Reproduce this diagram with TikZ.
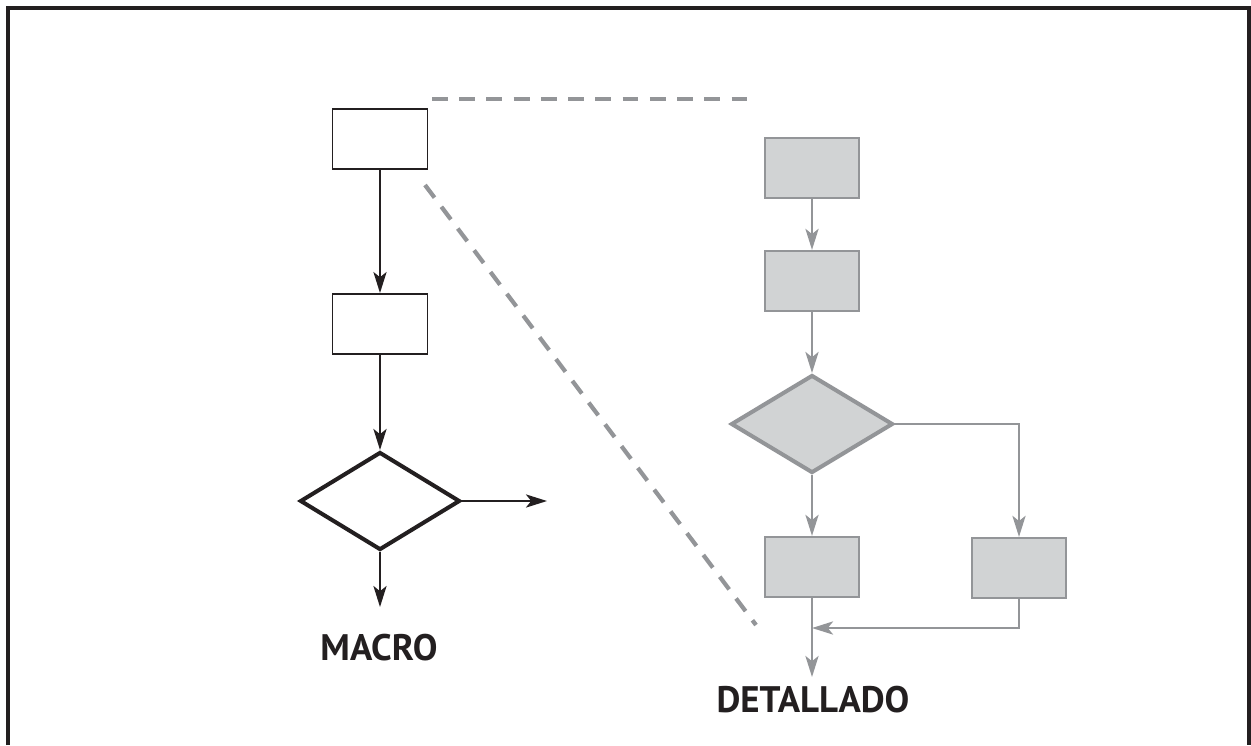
\documentclass[tikz,border=0pt]{standalone}
\usepackage{fontspec}
\setmainfont{PT Sans}
\usetikzlibrary{shapes.geometric,arrows.meta,positioning,calc}
\definecolor{inkblack}{HTML}{231F20}
\definecolor{midgray}{HTML}{939598}
\definecolor{lightgray}{HTML}{D1D3D4}

\begin{document}
\begin{tikzpicture}[x=0.02cm,y=-0.02cm,
  macrobox/.style={draw=inkblack,rectangle,line width=1.1pt,fill=white,
                   minimum width=1.9cm,minimum height=1.2cm,inner sep=0pt},
  macrodec/.style={draw=inkblack,diamond,line width=2.3pt,fill=white,
                   minimum width=3.2cm,minimum height=1.96cm,inner sep=0pt},
  detbox/.style={draw=midgray,fill=lightgray,rectangle,line width=1.3pt,
                 minimum width=1.88cm,minimum height=1.2cm,inner sep=0pt},
  detdec/.style={draw=midgray,fill=lightgray,diamond,line width=2.3pt,
                 minimum width=3.24cm,minimum height=1.96cm,inner sep=0pt},
  arr/.style={-{Stealth[length=12pt,width=7.5pt,inset=3pt]},draw=inkblack,line width=1.1pt},
  garr/.style={-{Stealth[length=12pt,width=7.5pt,inset=3pt]},draw=midgray,line width=1.3pt},
  zoomline/.style={draw=midgray,line width=2.4pt,dash pattern=on 9pt off 6.5pt},
  lbl/.style={font=\fontsize{21}{24}\selectfont\bfseries,text=inkblack,inner sep=0pt}
]
  \useasboundingbox (0,0) rectangle (1251,745);
  % Frame (open at the bottom)
  \draw[inkblack,line width=2.3pt] (8,745) -- (8,8) -- (1249,8) -- (1249,745);

  % Macro flow
  \node[macrobox] (macroA)   at (380,139) {};
  \node[macrobox] (macroB)   at (380,324) {};
  \node[macrodec] (macroDec) at (380,501) {};
  \coordinate (macroOut) at (547,501);
  \coordinate (macroEnd) at (380,607);
  \node[lbl] (macroLbl) at (379,648) {MACRO};

  \draw[arr] (macroA) -- (macroB);
  \draw[arr] (macroB) -- (macroDec);
  \draw[arr] (macroDec.east) -- (macroOut);
  \draw[arr] (macroDec.south) -- (macroEnd);

  % Zoom lines
  \coordinate (zoomTopA) at (432,99);
  \coordinate (zoomTopB) at (752,99);
  \coordinate (zoomLowA) at (425,185);
  \coordinate (zoomLowB) at (756,625);
  \draw[zoomline] (zoomTopA) -- (zoomTopB);
  \draw[zoomline] (zoomLowA) -- (zoomLowB);

  % Detailed flow
  \node[detbox] (detA)   at (812,168) {};
  \node[detbox] (detB)   at (812,281) {};
  \node[detdec] (detDec) at (812,424) {};
  \node[detbox] (detC)   at (812,567) {};
  \node[detbox] (detD)   at (1019,568) {};
  \coordinate (detJoin) at (812,628);
  \coordinate (detEnd)  at (812,677);
  \node[lbl] (detLbl) at (813,700) {DETALLADO};

  \draw[garr] (detA) -- (detB);
  \draw[garr] (detB) -- (detDec);
  \draw[garr] (detDec.south) -- (detC);
  \draw[garr] (detDec.east) -| (detD);
  \draw[garr] (detD.south) |- (detJoin);
  \draw[garr] (detC.south) -- (detEnd);
\end{tikzpicture}
\end{document}
